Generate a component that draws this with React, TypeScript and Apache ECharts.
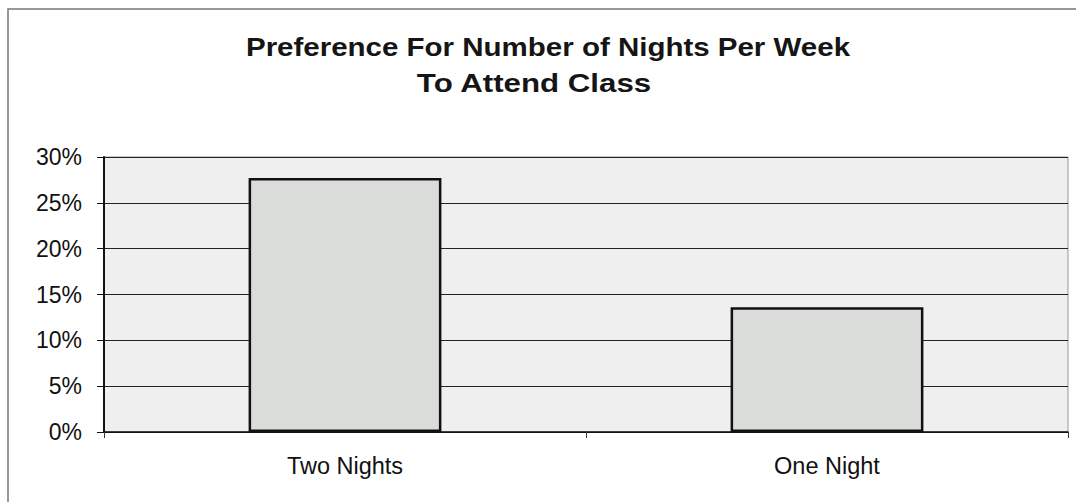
import React, { useEffect, useRef } from "react";
import * as echarts from "echarts";

const categories = ["Two Nights", "One Night"];
const values = [27.7, 13.6];
const titleLines = ["Preference For Number of Nights Per Week", "To Attend Class"];

export default function App() {
  const ref = useRef<HTMLDivElement>(null);
  useEffect(() => {
    const chart = echarts.init(ref.current!, null, { renderer: "svg" });
    const font = "Liberation Sans, Arial, sans-serif";
    chart.setOption({
      animation: false,
      backgroundColor: "#ffffff",
      textStyle: { fontFamily: font },
      graphic: [
        {
          type: "rect",
          shape: { x: 8, y: 9, width: 1100, height: 520 },
          style: { fill: "none", stroke: "#777", lineWidth: 1.5 },
          silent: true,
        },
        {
          type: "text",
          x: 548,
          y: 47,
          scaleX: 1.18,
          style: {
            text: titleLines[0],
            fontSize: 25,
            fontWeight: "bold",
            fontFamily: font,
            fill: "#151515",
            align: "center",
            verticalAlign: "middle",
          },
        },
        {
          type: "text",
          x: 534,
          y: 83,
          scaleX: 1.25,
          style: {
            text: titleLines[1],
            fontSize: 25,
            fontWeight: "bold",
            fontFamily: font,
            fill: "#151515",
            align: "center",
            verticalAlign: "middle",
          },
        },
      ],
      grid: {
        left: 104,
        right: 8,
        top: 157,
        bottom: 70,
        show: true,
        backgroundColor: "#efefef",
        borderColor: "#999",
        borderWidth: 1,
      },
      xAxis: {
        type: "category",
        data: categories,
        boundaryGap: true,
        axisLine: { show: true, lineStyle: { color: "#111", width: 1.5 } },
        axisTick: { show: true, length: 6, lineStyle: { color: "#333" } },
        axisLabel: { fontSize: 23.5, color: "#111", margin: 22 },
      },
      yAxis: {
        type: "value",
        min: 0,
        max: 30,
        interval: 5,
        axisLine: { show: true, lineStyle: { color: "#111", width: 2 } },
        axisTick: { show: true, length: 7, lineStyle: { color: "#111" } },
        axisLabel: { fontSize: 23, color: "#111", margin: 22, formatter: "{value}%" },
        splitLine: { show: true, lineStyle: { color: "#222", width: 1 } },
      },
      series: [
        {
          type: "bar",
          data: values,
          barWidth: "40%",
          itemStyle: { color: "#dadcda", borderColor: "#111", borderWidth: 2.5 },
        },
      ],
    });
    return () => chart.dispose();
  }, []);
  return <div ref={ref} style={{ position: "fixed", left: 0, top: 0, width: 1076, height: 502 }} />;
}
